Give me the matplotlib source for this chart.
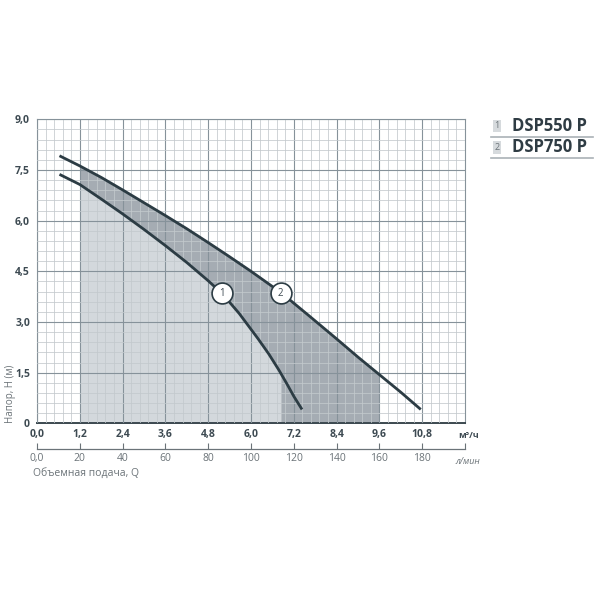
import matplotlib.pyplot as plt
import numpy as np
from matplotlib.ticker import MultipleLocator, FixedLocator

# pump curves, Q in m3/h, H in m
q1 = [0.63, 1.2, 1.8, 2.4, 3.0, 3.6, 4.2, 4.8, 5.2, 5.67, 6.2, 6.5, 6.78, 7.0, 7.2, 7.43]
h1 = [7.37, 7.07, 6.64, 6.2, 5.74, 5.26, 4.76, 4.22, 3.83, 3.25, 2.5, 2.05, 1.58, 1.18, 0.8, 0.41]
q2 = [0.63, 1.2, 1.8, 2.4, 3.0, 3.6, 4.2, 4.8, 5.4, 6.0, 6.84, 7.62, 8.4, 9.0, 9.6, 10.2, 10.76]
h2 = [7.92, 7.62, 7.28, 6.91, 6.53, 6.15, 5.76, 5.35, 4.93, 4.5, 3.87, 3.19, 2.5, 1.96, 1.44, 0.92, 0.41]

# working ranges (shaded)
range1 = (1.2, 6.84)
range2 = (1.2, 9.58)

# curve marker positions
mark1 = (5.2, 3.85)
mark2 = (6.83, 3.85)

models = ["DSP550 P", "DSP750 P"]
xticks_m3h = [0, 1.2, 2.4, 3.6, 4.8, 6.0, 7.2, 8.4, 9.6, 10.8]
yticks = [0, 1.5, 3.0, 4.5, 6.0, 7.5, 9.0]
lmin_ticks = [0, 20, 40, 60, 80, 100, 120, 140, 160, 180]

CURVE = "#2c3c44"
TXT = "#3d4a52"
GRAY_TXT = "#6b7378"
FONT = "Open Sans"

fig = plt.figure(figsize=(6, 6), dpi=100)
ax = fig.add_axes([37 / 600, 1 - 423.3 / 600, 428 / 600, 304 / 600])
ax.set_xlim(0, 12.0)
ax.set_ylim(0, 9.0)


def region(q, h, lo, hi):
    q = np.asarray(q)
    h = np.asarray(h)
    inner = (q > lo) & (q < hi)
    xs = np.concatenate([[lo], q[inner], [hi]])
    ys = np.concatenate([[np.interp(lo, q, h)], h[inner], [np.interp(hi, q, h)]])
    return xs, ys


xs, ys = region(q2, h2, *range2)
ax.fill_between(xs, 0, ys, color="#a5acb3", lw=0, zorder=1)
xs, ys = region(q1, h1, *range1)
ax.fill_between(xs, 0, ys, color="#d3d8dc", lw=0, zorder=1.1)

# grid
ax.xaxis.set_major_locator(MultipleLocator(1.2))
ax.xaxis.set_minor_locator(MultipleLocator(0.24))
ax.yaxis.set_major_locator(MultipleLocator(1.5))
ax.yaxis.set_minor_locator(MultipleLocator(0.3))
ax.grid(which="major", color="#86929a", lw=0.8, zorder=2)
ax.grid(which="minor", color="#c3c9cd", lw=0.55, zorder=2)
ax.set_axisbelow(False)
ax.tick_params(which="both", length=0)

for s in ["top", "right", "left"]:
    ax.spines[s].set_color("#86929a")
    ax.spines[s].set_linewidth(0.8)
ax.spines["bottom"].set_color("#3a474e")
ax.spines["bottom"].set_linewidth(1.4)

ax.plot(q1, h1, color=CURVE, lw=2.0, solid_capstyle="butt",
        solid_joinstyle="round", zorder=4)
ax.plot(q2, h2, color=CURVE, lw=2.0, solid_capstyle="butt",
        solid_joinstyle="round", zorder=4)

for (mx, my), n in [(mark1, "1"), (mark2, "2")]:
    ax.plot(mx, my, "o", ms=15, mfc="white", mec=CURVE, mew=1.2, zorder=5)
    ax.text(mx, my, n, ha="center", va="center", fontsize=7, color=TXT,
            family=FONT, zorder=6)

ax.set_xticks(xticks_m3h)
ax.set_xticklabels([f"{v:.1f}".replace(".", ",") for v in xticks_m3h],
                   fontsize=7.5, fontweight="bold", color=TXT, family=FONT)
ax.set_yticks(yticks)
ax.set_yticklabels(["0" if v == 0 else f"{v:.1f}".replace(".", ",") for v in yticks],
                   fontsize=7.5, fontweight="bold", color=TXT, family=FONT)
ax.tick_params(axis="x", pad=4)
ax.tick_params(axis="y", pad=5)

fig.text(458 / 600, 1 - 435 / 600, "м³/ч", ha="left", va="center", fontsize=6.5,
         color=TXT, family=FONT, fontweight="bold")

# second scale: l/min
sec = ax.secondary_xaxis(-0.0845, functions=(lambda x: x * 1000 / 60,
                                              lambda x: x * 60 / 1000))
sec.xaxis.set_major_locator(FixedLocator(lmin_ticks + [200]))
sec.set_xticklabels(["0,0"] + [str(v) for v in lmin_ticks[1:]] + [""],
                    fontsize=7.5, color=GRAY_TXT, family=FONT)
sec.tick_params(direction="in", length=4, width=0.8, color="#6b7378", pad=3)
sec.spines["bottom"].set_color("#6b7378")
sec.spines["bottom"].set_linewidth(0.9)
fig.text(455 / 600, 1 - 461 / 600, "л/мин", ha="left", va="center",
         fontsize=6.5, color=GRAY_TXT, family=FONT, style="italic")

fig.text(33 / 600, 1 - 473 / 600, "Объемная подача, Q", ha="left", va="center",
         fontsize=7.5, color=GRAY_TXT, family=FONT)
fig.text(11 / 600, 1 - 423 / 600, "Напор, H (м)", ha="center", va="bottom",
         rotation=90, fontsize=7, color=GRAY_TXT, family=FONT)

# legend on the right
for i, name in enumerate(models):
    yc = 1 - (126 + i * 21.5) / 600
    fig.text(497 / 600, yc, str(i + 1), ha="center", va="center", fontsize=6.5,
             color="#6b7378", family=FONT,
             bbox=dict(boxstyle="square,pad=0.18", fc="#d6dadd", ec="none"))
    fig.text(512 / 600, yc, name, ha="left", va="center", fontsize=12,
             fontweight="bold", color="#2f3c44", family=FONT)
    ly = 1 - (136.5 + i * 21.5) / 600
    fig.add_artist(plt.Line2D([491 / 600, 593 / 600], [ly, ly],
                              color="#aab1b6", lw=1.2))

fig.savefig("out.png", dpi=100)
